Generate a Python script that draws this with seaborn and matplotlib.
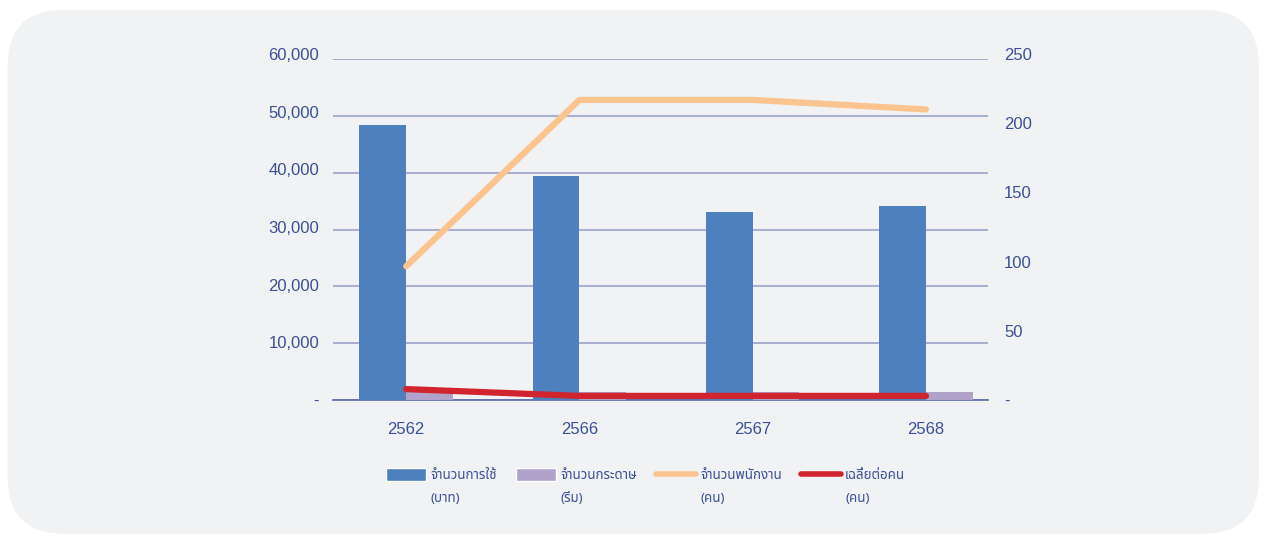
import matplotlib
matplotlib.use("Agg")
import matplotlib.pyplot as plt
import seaborn as sns
import pandas as pd
from matplotlib.patches import FancyBboxPatch, Patch
from matplotlib.lines import Line2D
from matplotlib.ticker import FuncFormatter
from matplotlib.transforms import ScaledTranslation

# Data
years = ["2562", "2566", "2567", "2568"]
usage_baht = [48300, 39400, 33100, 34100]
paper_reams = [2100, 1400, 1400, 1400]
staff = [98, 220, 220, 213]
per_person = [8, 3, 3, 3]

labels = ["จำนวนการใช้", "จำนวนกระดาษ", "จำนวนพนักงาน", "เฉลี่ยต่อคน"]
units = ["(บาท)", "(รีม)", "(คน)", "(คน)"]

df = pd.DataFrame({"year": years, "usage": usage_baht, "paper": paper_reams,
                   "staff": staff, "per_person": per_person})
bars = df.melt(id_vars="year", value_vars=["usage", "paper"], var_name="series", value_name="value")

sns.set_style("white")
plt.rcParams["font.family"] = ["Liberation Sans", "DejaVu Sans"]
thai = ["Noto Sans Thai", "DejaVu Sans"]

blue = "#4d80bd"
purple = "#b0a2c8"
orange = "#fbc38e"
red = "#d0242f"
text_col = "#3a4f96"
grid_col = "#9aa2c8"
bg = "#f1f2f4"

fig = plt.figure(figsize=(12.64, 5.36), dpi=100)
fig.patch.set_facecolor("white")
fig.patches.append(FancyBboxPatch((0.006, 0.004), 0.99, 0.978, boxstyle="round,pad=0,rounding_size=0.045",
                                  transform=fig.transFigure, facecolor=bg, edgecolor="none",
                                  mutation_aspect=1264 / 536, zorder=-5))

ax = fig.add_axes([333 / 1264, 1 - 400 / 536, 655 / 1264, 341 / 536])
ax.set_facecolor("none")

sns.barplot(data=bars, x="year", y="value", hue="series", palette=[blue, purple],
            width=0.54, gap=0, saturation=1, linewidth=0, edgecolor="none",
            ax=ax, legend=False, zorder=3)

ax.set_yticks(range(0, 60001, 10000))
ax.set_ylim(0, 60000)
ax.set_xlim(-0.422, 3.358)
ax.yaxis.set_major_formatter(FuncFormatter(lambda v, p: "-" if v == 0 else f"{int(v):,}"))
ax.grid(axis="y", color=grid_col, linewidth=1.2, zorder=0)
ax.set_axisbelow(True)
for s in ["top", "right", "left"]:
    ax.spines[s].set_visible(False)
ax.spines["bottom"].set_color("#5a66ae")
ax.spines["bottom"].set_linewidth(1.2)
ax.tick_params(axis="both", length=0, labelsize=12, labelcolor=text_col)
ax.tick_params(axis="y", pad=10)
ax.tick_params(axis="x", pad=16)
ax.set_xlabel("")
ax.set_ylabel("")

ax2 = ax.twinx()
sns.lineplot(data=df, x="year", y="staff", color=orange, linewidth=4.5, ax=ax2, zorder=4,
             solid_capstyle="round")
sns.lineplot(data=df, x="year", y="per_person", color=red, linewidth=4.5, ax=ax2, zorder=5,
             solid_capstyle="round")
ax2.set_yticks(range(0, 251, 50))
ax2.set_ylim(0, 250)
ax2.yaxis.set_major_formatter(FuncFormatter(lambda v, p: "-" if v == 0 else f"{int(v)}"))
for s in ax2.spines.values():
    s.set_visible(False)
ax2.tick_params(axis="y", length=0, labelsize=12, labelcolor=text_col, pad=11.5)
ax2.set_ylabel("")
ax2.grid(False)

# the tick labels sit slightly higher than their gridlines, more so near the top
for tick, v in zip(ax.yaxis.get_major_ticks(), ax.get_yticks()):
    tick.label1.set_transform(tick.label1.get_transform() +
                              ScaledTranslation(0, v / 60000 * 5 / 100, fig.dpi_scale_trans))
for tick, v in zip(ax2.yaxis.get_major_ticks(), ax2.get_yticks()):
    tick.label2.set_transform(tick.label2.get_transform() +
                              ScaledTranslation(0, v / 250 * 5 / 100, fig.dpi_scale_trans))

handles = [Patch(facecolor=blue), Patch(facecolor=purple),
           Line2D([], [], color=orange, linewidth=4, solid_capstyle="round"),
           Line2D([], [], color=red, linewidth=4, solid_capstyle="round")]
leg = fig.legend(handles, labels, loc="center", bbox_to_anchor=(0.511, 0.113), ncol=4, frameon=False,
                 prop={"family": thai, "size": 9.6},
                 handlelength=3.0, handleheight=1.1, handletextpad=0.3, columnspacing=1.45)
for t in leg.get_texts():
    t.set_color(text_col)

# second line of each legend label, under the first
fig.canvas.draw()
r = fig.canvas.get_renderer()
for t, u in zip(leg.get_texts(), units):
    bb = t.get_window_extent(r)
    fig.text(bb.x0 / 1264, (bb.y0 - 23) / 536, u, family=thai, fontsize=9.6, color=text_col, va="bottom")

fig.savefig("out.png", dpi=100)
